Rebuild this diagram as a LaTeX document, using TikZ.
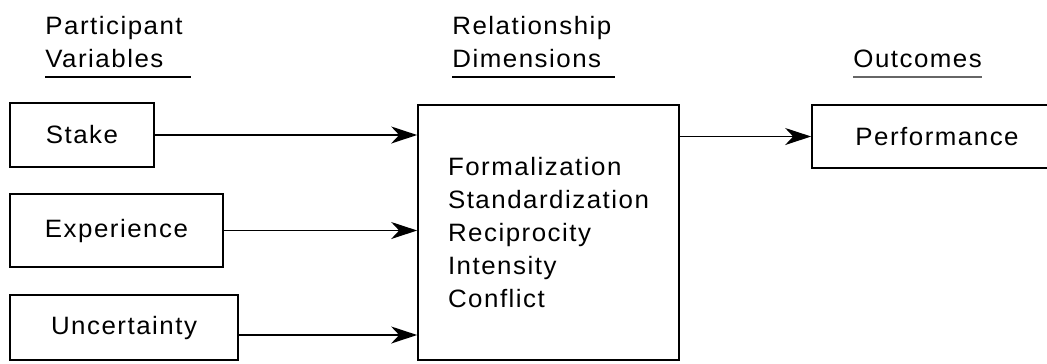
\documentclass[tikz,border=0pt]{standalone}
\usepackage{fontspec}
\setmainfont{Liberation Sans}[LetterSpace=6,FakeStretch=1.03]
\usetikzlibrary{arrows.meta}

\begin{document}
\begin{tikzpicture}[x=0.02cm, y=-0.02cm,
    font=\fontsize{14.3}{18.8}\selectfont,
    box/.style={draw, line width=1pt, inner sep=0pt},
    head/.style={align=left, inner xsep=0pt, inner ysep=0.18cm, anchor=south west},
    uline/.style={line width=0.8pt},
    arr/.style={line width=0.8pt, -{Stealth[length=0.52cm, width=0.34cm, inset=0.16cm]}}]

    \useasboundingbox (0,0) rectangle (1047,363);

    % column headings
    \node[head] (partHead) at (45,77) {Participant\\Variables};
    \node[head] (relHead) at (452,77) {Relationship\\Dimensions};
    \node[head] (outHead) at (853,77) {Outcomes};
    \draw[uline] (partHead.south west) -- ([xshift=0.16cm]partHead.south east);
    \draw[uline] (relHead.south west) -- ([xshift=0.06cm]relHead.south east);
    \draw[uline, black!60] (outHead.south west) -- (outHead.south east);

    % participant variables
    \node[box, minimum width=2.88cm, minimum height=1.28cm] (stake) at (82,135) {Stake};
    \node[box, minimum width=4.26cm, minimum height=1.46cm] (exper) at (116.5,230.5) {Experience};
    \node[box, minimum width=4.56cm, minimum height=1.3cm] (uncert) at (124,327.5) {Uncertainty};

    % relationship dimensions
    \node[box, align=left, minimum width=5.22cm, minimum height=5.1cm] (dims) at (548.5,232.5)
        {Formalization\\Standardization\\Reciprocity\\Intensity\\Conflict};

    % outcomes
    \node[box, minimum width=5cm, minimum height=1.26cm] (perf) at (937,136.5) {Performance};

    \draw[arr] (stake) -- (stake -| dims.west);
    \draw[arr] (exper) -- (exper -| dims.west);
    \draw[arr] ([yshift=-0.15cm]uncert.east) -- ([yshift=-0.15cm]uncert.east -| dims.west);
    \draw[arr] (perf -| dims.east) -- (perf.west);
\end{tikzpicture}
\end{document}
